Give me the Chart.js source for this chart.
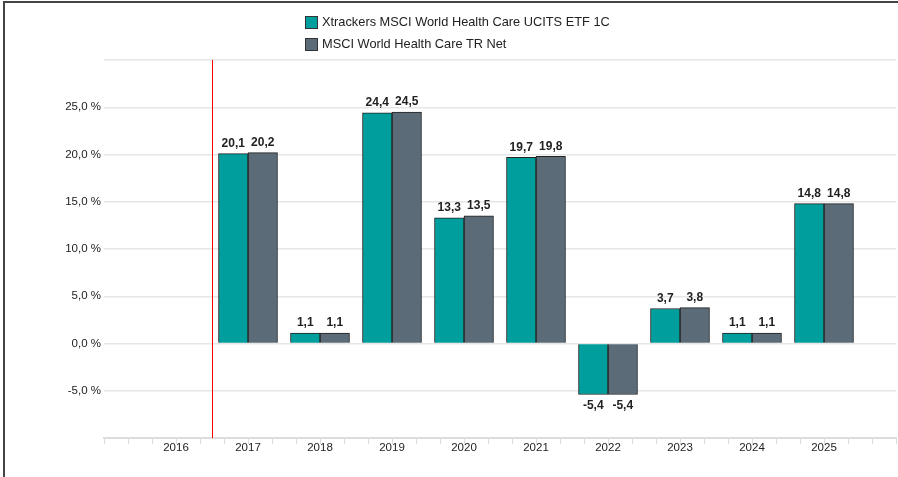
<!DOCTYPE html>
<html lang="de">
<head>
    <meta charset="UTF-8">
    <script src="https://cdn.jsdelivr.net/npm/chart.js"></script>
    <style>
        html, body { margin: 0; padding: 0; background: #fff; }
        body { width: 898px; height: 477px; position: relative; overflow: hidden; font-family: Arial, "Liberation Sans", sans-serif; }
        #wrap { position: absolute; left: 0; top: 0; width: 898px; height: 477px; }
        #frame { position: absolute; left: 3px; top: 1px; right: 0; bottom: 0; border-top: 2px solid #444; border-left: 2px solid #444; pointer-events: none; }
        #legend { position: absolute; left: 305px; top: 11px; font-size: 12.8px; color: #222; }
        #legend div { height: 22px; line-height: 16px; display: flex; align-items: center; }
        #legend span.box { display: inline-block; width: 11px; height: 11px; border: 1px solid #333; margin-right: 4px; }
    </style>
    <title>Jährliche Wertentwicklung</title>
</head>
<body>
    <div id="wrap"><canvas id="myChart" width="898" height="477"></canvas></div>
    <div id="legend"></div>
    <div id="frame"></div>
    <script>
        var years = ['2017', '2018', '2019', '2020', '2021', '2022', '2023', '2024', '2025'];
        var axisYears = ['2016', '2017', '2018', '2019', '2020', '2021', '2022', '2023', '2024', '2025'];
        var etfValues = [20.1, 1.1, 24.4, 13.3, 19.7, -5.4, 3.7, 1.1, 14.8];
        var indexValues = [20.2, 1.1, 24.5, 13.5, 19.8, -5.4, 3.8, 1.1, 14.8];
        var seriesNames = ['Xtrackers MSCI World Health Care UCITS ETF 1C', 'MSCI World Health Care TR Net'];
        var seriesColors = ['#009e9c', '#5b6b77'];
        var yTickLabels = [-5, 0, 5, 10, 15, 20, 25];

        // x axis runs in thirds of a year, starting at 2015
        function xPos(year) { return (parseInt(year) - 2015) * 3; }

        function fmt(v) { return v.toFixed(1).replace('.', ','); }

        var legendHtml = '';
        seriesNames.forEach(function (n, i) {
            legendHtml += '<div><span class="box" style="background:' + seriesColors[i] + '"></span>' + n + '</div>';
        });
        document.getElementById('legend').innerHTML = legendHtml;

        var valueLabels = {
            id: 'valueLabels',
            afterDatasetsDraw: function (chart) {
                var ctx = chart.ctx;
                ctx.save();
                ctx.font = 'bold 12px Arial, "Liberation Sans", sans-serif';
                ctx.fillStyle = '#222';
                ctx.textAlign = 'center';
                chart.data.datasets.forEach(function (ds, i) {
                    chart.getDatasetMeta(i).data.forEach(function (el, j) {
                        var v = ds.data[j].y;
                        if (v >= 0) {
                            ctx.textBaseline = 'bottom';
                            ctx.fillText(fmt(v), el.x, el.y - 4);
                        } else {
                            ctx.textBaseline = 'top';
                            ctx.fillText(fmt(v), el.x, el.y + 5);
                        }
                    });
                });
                ctx.restore();
            }
        };

        var redLine = {
            id: 'redLine',
            afterDatasetsDraw: function (chart) {
                var ctx = chart.ctx;
                var x = Math.round(chart.scales.x.getPixelForValue(4.5)) + 0.5;
                ctx.save();
                ctx.strokeStyle = '#ff0000';
                ctx.lineWidth = 1;
                ctx.beginPath();
                ctx.moveTo(x, chart.chartArea.top);
                ctx.lineTo(x, chart.chartArea.bottom);
                ctx.stroke();
                ctx.restore();
            }
        };

        var ctx = document.getElementById('myChart').getContext('2d');
        var myChart = new Chart(ctx, {
            type: 'bar',
            data: {
                datasets: seriesNames.map(function (n, i) {
                    var vals = i === 0 ? etfValues : indexValues;
                    return {
                        label: n,
                        data: years.map(function (y, j) { return { x: xPos(y), y: vals[j] }; }),
                        backgroundColor: seriesColors[i],
                        borderColor: '#222',
                        borderWidth: 1,
                        barThickness: 29.5
                    };
                })
            },
            options: {
                responsive: false,
                animation: false,
                layout: { padding: { top: 60, right: 2, left: 0, bottom: 0 } },
                plugins: { legend: { display: false }, tooltip: { enabled: false } },
                scales: {
                    x: {
                        type: 'linear',
                        min: 0,
                        max: 33,
                        offset: false,
                        afterFit: function (s) { s.height = 39; },
                        grid: { offset: false, drawOnChartArea: false, drawTicks: true, tickLength: 6, color: '#dcdcdc', lineWidth: 1 },
                        border: { color: '#dcdcdc', width: 2 },
                        ticks: {
                            stepSize: 1,
                            autoSkip: false,
                            maxRotation: 0,
                            padding: -3,
                            color: '#222',
                            font: { size: 11.5, family: 'Arial, "Liberation Sans", sans-serif' },
                            callback: function (v) {
                                var y = 2015 + v / 3;
                                if (v % 3 === 0 && axisYears.indexOf(String(y)) >= 0) return String(y);
                                return '';
                            }
                        }
                    },
                    y: {
                        min: -10,
                        max: 30,
                        afterFit: function (s) { s.width = 104; },
                        grid: { drawTicks: false, color: '#e6e6e6', lineWidth: 1.5 },
                        border: { display: false },
                        ticks: {
                            stepSize: 5,
                            padding: 3,
                            color: '#222',
                            font: { size: 11.5, family: 'Arial, "Liberation Sans", sans-serif' },
                            callback: function (v) {
                                return yTickLabels.indexOf(v) >= 0 ? fmt(v) + ' %' : '';
                            }
                        }
                    }
                }
            },
            plugins: [valueLabels, redLine]
        });
    </script>
</body>
</html>
